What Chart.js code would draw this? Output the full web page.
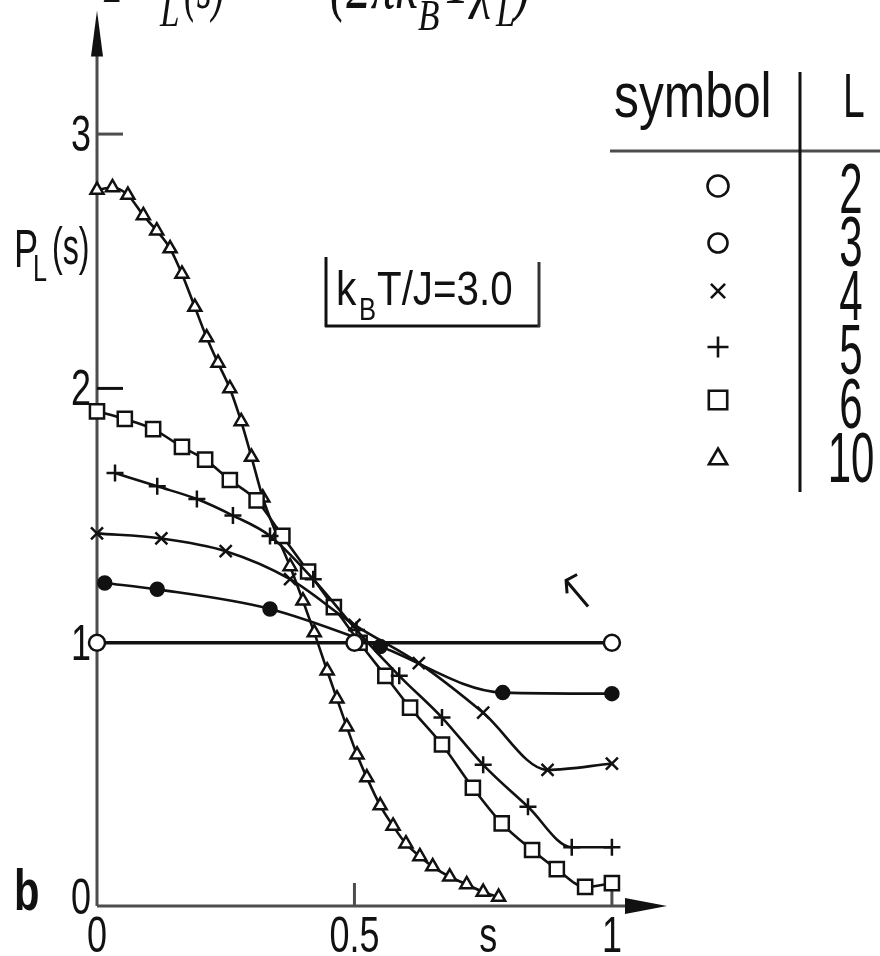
<!DOCTYPE html>
<html>
<head>
<meta charset="utf-8">
<script src="https://cdn.jsdelivr.net/npm/chart.js@4/dist/chart.umd.min.js"></script>
<style>
  html, body { margin: 0; padding: 0; background: #fff; }
  canvas { display: block; }
</style>
</head>
<body>
<canvas id="c" width="880" height="956"></canvas>
<script>
// Block distribution P_L(s) of the order parameter, k_B T/J = 3.0
const sizesL = [2, 3, 4, 5, 6, 10];

const sL2 = [0, 0.5, 1.0];
const pL2 = [1.0, 1.0, 1.0];

const sL3 = [0.015, 0.117, 0.336, 0.55, 0.788, 1.0];
const pL3 = [1.235, 1.21, 1.133, 0.985, 0.804, 0.80];

const sL4 = [0, 0.125, 0.25, 0.375, 0.5, 0.625, 0.75, 0.875, 1.0];
const pL4 = [1.43, 1.41, 1.36, 1.25, 1.07, 0.92, 0.725, 0.50, 0.525];

const sL5 = [0.035, 0.117, 0.194, 0.264, 0.336, 0.42, 0.504, 0.587, 0.67, 0.75, 0.837, 0.922, 1.0];
const pL5 = [1.667, 1.615, 1.565, 1.50, 1.42, 1.25, 1.05, 0.87, 0.706, 0.52, 0.355, 0.196, 0.196];

const sL6 = [0, 0.054, 0.109, 0.165, 0.21, 0.258, 0.31, 0.36, 0.41, 0.46, 0.51, 0.56, 0.608, 0.67, 0.73, 0.786, 0.845, 0.893, 0.948, 1.0];
const pL6 = [1.91, 1.88, 1.84, 1.77, 1.72, 1.64, 1.56, 1.42, 1.28, 1.14, 1.0, 0.87, 0.745, 0.60, 0.43, 0.29, 0.185, 0.11, 0.04, 0.055];

const sL10 = [0, 0.03, 0.06, 0.09, 0.116, 0.142, 0.165, 0.19, 0.213, 0.235, 0.258, 0.28, 0.30, 0.322, 0.35, 0.375, 0.40, 0.422, 0.447, 0.466, 0.485, 0.505, 0.524, 0.55, 0.575, 0.60, 0.627, 0.652, 0.685, 0.718, 0.75, 0.78];
const pL10 = [2.78, 2.79, 2.76, 2.68, 2.62, 2.55, 2.45, 2.32, 2.20, 2.10, 2.0, 1.87, 1.73, 1.57, 1.42, 1.30, 1.165, 1.04, 0.89, 0.78, 0.67, 0.56, 0.47, 0.36, 0.28, 0.21, 0.16, 0.12, 0.08, 0.05, 0.02, 0.0];

const xTicks = [0, 0.5, 1];
const xTickLabels = ['0', '0.5', '1'];
const yTicks = [0, 1, 2, 3];
const yTickLabels = ['0', '1', '2', '3'];

const INK = '#111';
const AXIS = '#4d4d4d';

function pts(sArr, pArr) {
  return sArr.map((s, i) => ({ x: s, y: pArr[i] }));
}

const markerStyles = {
  2:  { pointStyle: 'circle',   pointRadius: 8,   pointBackgroundColor: '#fff' },
  3:  { pointStyle: 'circle',   pointRadius: 6.5, pointBackgroundColor: INK },
  4:  { pointStyle: 'crossRot', pointRadius: 8.5, pointBackgroundColor: '#fff' },
  5:  { pointStyle: 'cross',    pointRadius: 8.5, pointBackgroundColor: '#fff' },
  6:  { pointStyle: 'rect',     pointRadius: 10,  pointBackgroundColor: '#fff' },
  10: { pointStyle: 'triangle', pointRadius: 7.5, pointBackgroundColor: '#fff' }
};

// symbol sizes used in the table
const tableRadius = { 2: 10.5, 3: 9.5, 4: 10, 5: 10.5, 6: 13, 10: 10.5 };

const seriesData = {
  2: pts(sL2, pL2),
  3: pts(sL3, pL3),
  4: pts(sL4, pL4),
  5: pts(sL5, pL5),
  6: pts(sL6, pL6),
  10: pts(sL10, pL10)
};

const datasets = sizesL.map(L => Object.assign({
  label: 'L = ' + L,
  data: seriesData[L],
  showLine: true,
  borderColor: INK,
  borderWidth: L === 2 ? 3.5 : 2.6,
  pointBorderColor: INK,
  pointBorderWidth: 2.5,
  cubicInterpolationMode: 'monotone',
  clip: false
}, markerStyles[L]));

function txt(ctx, s, x, y, size, sx, o) {
  o = o || {};
  ctx.save();
  ctx.fillStyle = o.color || INK;
  ctx.font = (o.style || '') + ' ' + size + 'px ' + (o.family || '"Liberation Sans", Arial, sans-serif');
  ctx.textAlign = o.align || 'left';
  ctx.textBaseline = o.base || 'alphabetic';
  ctx.translate(x, y);
  ctx.scale(sx, 1);
  ctx.fillText(s, 0, 0);
  ctx.restore();
}

function line(ctx, x1, y1, x2, y2, w, c) {
  ctx.save();
  ctx.strokeStyle = c || INK;
  ctx.lineWidth = w;
  ctx.beginPath();
  ctx.moveTo(x1, y1);
  ctx.lineTo(x2, y2);
  ctx.stroke();
  ctx.restore();
}

function marker(ctx, L, x, y) {
  const m = markerStyles[L];
  ctx.save();
  ctx.strokeStyle = INK;
  ctx.fillStyle = L === 3 ? '#fff' : m.pointBackgroundColor;
  ctx.lineWidth = 2.6;
  const opts = { pointStyle: m.pointStyle, radius: tableRadius[L], borderWidth: 2.6, rotation: 0 };
  Chart.helpers.drawPoint(ctx, opts, x, y);
  ctx.restore();
}

const decor = {
  id: 'decor',
  beforeDatasetsDraw(chart) {
    const ctx = chart.ctx;
    const xs = chart.scales.x, ys = chart.scales.y;
    const a = chart.chartArea;
    const x0 = xs.getPixelForValue(0);
    const yb = a.bottom;

    // axes with arrowheads
    line(ctx, x0, yb, x0, a.top + 30, 3, AXIS);
    line(ctx, x0, yb, a.right - 30, yb, 3, AXIS);
    ctx.save();
    ctx.fillStyle = INK;
    ctx.beginPath();
    ctx.moveTo(x0, a.top - 2);
    ctx.lineTo(x0 - 6, a.top + 44);
    ctx.lineTo(x0 + 6, a.top + 44);
    ctx.closePath();
    ctx.fill();
    ctx.beginPath();
    ctx.moveTo(a.right, yb);
    ctx.lineTo(a.right - 42, yb - 8);
    ctx.lineTo(a.right - 42, yb + 8);
    ctx.closePath();
    ctx.fill();
    ctx.restore();

    // tick marks
    yTicks.forEach(v => {
      if (v === 0 || v === 1) return;
      const py = ys.getPixelForValue(v);
      line(ctx, x0, py, x0 + 26, py, 3, v === 3 ? AXIS : INK);
    });
    xTicks.forEach(v => {
      if (v === 0) return;
      const px = xs.getPixelForValue(v);
      line(ctx, px, yb, px, yb - 23, 3, AXIS);
    });
  },
  afterDraw(chart) {
    const ctx = chart.ctx;
    const xs = chart.scales.x, ys = chart.scales.y;
    const x0 = xs.getPixelForValue(0);

    // tick labels
    yTicks.forEach((v, i) => {
      const py = ys.getPixelForValue(v);
      txt(ctx, yTickLabels[i], x0 - 6, py + 17, 50, 0.72, { align: 'right' });
    });
    xTicks.forEach((v, i) => {
      const px = xs.getPixelForValue(v);
      txt(ctx, xTickLabels[i], px, 952, 50, 0.72, { align: 'center' });
    });
    txt(ctx, 's', xs.getPixelForValue(0.76), 952, 50, 0.72, { align: 'center' });
    txt(ctx, 'b', 14, 910, 58, 0.72, { style: 'bold' });

    // y axis title P_L(s)
    txt(ctx, 'P', 14, 267, 54, 0.67);
    txt(ctx, 'L', 33, 281, 36, 0.7);
    txt(ctx, '(s)', 52, 264, 52, 0.62);

    // formula line running off the top edge
    const serif = '"Liberation Serif", "DejaVu Serif", serif';
    const fo = { style: 'italic', family: serif };
    txt(ctx, 'P', 104, 2, 70, 0.8, fo);
    txt(ctx, 'L', 160, 26, 44, 0.8, fo);
    txt(ctx, '(s)', 184, 8, 70, 0.55, fo);
    txt(ctx, '=', 262, 6, 70, 0.75, { family: serif });
    txt(ctx, '(2πk', 330, 8, 70, 0.7, fo);
    txt(ctx, 'B', 418, 30, 44, 0.8, fo);
    txt(ctx, 'T', 442, 3, 70, 0.8, fo);
    txt(ctx, 'χ', 472, 4, 70, 0.7, fo);
    txt(ctx, 'L', 496, 26, 44, 0.8, fo);
    txt(ctx, ')', 514, 8, 70, 0.7, fo);

    // parameter box (left, bottom and right sides)
    line(ctx, 326, 257, 326, 327, 3, INK);
    line(ctx, 325, 326, 540, 326, 3, INK);
    line(ctx, 539, 262, 539, 327, 3, '#333');
    txt(ctx, 'k', 336, 305, 48, 0.85);
    txt(ctx, 'B', 359, 320, 32, 0.8);
    txt(ctx, 'T/J=3.0', 377, 305, 48, 0.84);

    // symbol table
    txt(ctx, 'symbol', 614, 117, 63, 0.79);
    txt(ctx, 'L', 843, 117, 63, 0.62);
    line(ctx, 610, 151, 880, 151, 3, AXIS);
    line(ctx, 800, 72, 800, 492, 3, INK);
    const rowY = [186, 243, 291, 347, 400, 459];
    const numBase = [213, 266, 320, 374, 428, 482];
    sizesL.forEach((L, i) => {
      marker(ctx, L, 718, rowY[i]);
      txt(ctx, String(L), 851, numBase[i], 70, 0.6, { align: 'center' });
    });

    // small arrow pointing toward the L = 2 line
    const ax = xs.getPixelForValue(0.911), ay = ys.getPixelForValue(1.245);
    ctx.save();
    ctx.strokeStyle = INK;
    ctx.lineWidth = 3;
    ctx.beginPath();
    ctx.moveTo(ax + 11, ay - 6);
    ctx.lineTo(ax, ay);
    ctx.lineTo(ax + 1, ay + 13);
    ctx.moveTo(ax, ay);
    ctx.lineTo(ax + 22, ay + 26);
    ctx.stroke();
    ctx.restore();
  }
};

new Chart(document.getElementById('c'), {
  type: 'scatter',
  data: { datasets },
  options: {
    responsive: false,
    animation: false,
    devicePixelRatio: 1,
    layout: { padding: { left: 97, right: 213, top: 10, bottom: 50 } },
    plugins: { legend: { display: false }, tooltip: { enabled: false } },
    scales: {
      x: { type: 'linear', min: 0, max: 1.107, display: false },
      y: { type: 'linear', min: -0.035, max: 3.478, display: false }
    }
  },
  plugins: [decor]
});
</script>
</body>
</html>
